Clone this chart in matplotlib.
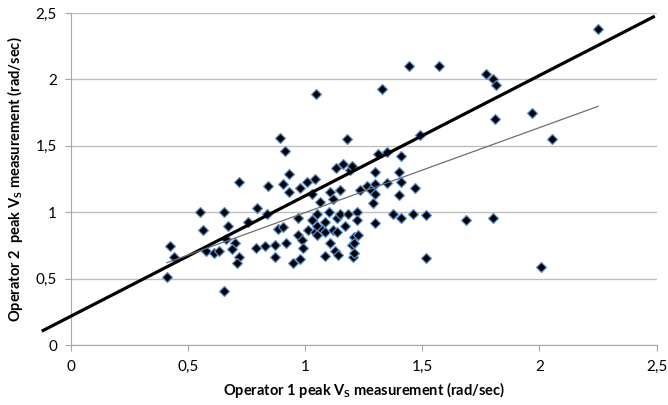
import matplotlib
matplotlib.use("Agg")
import matplotlib.pyplot as plt
import numpy as np

plt.rcParams['font.family'] = ['Lato', 'DejaVu Sans']
plt.rcParams['mathtext.fontset'] = 'custom'
plt.rcParams['mathtext.rm'] = 'Lato'
plt.rcParams['mathtext.bf'] = 'Lato:bold'

# operator 1 / operator 2 peak Vs (rad/sec)
op1 = [0.412, 0.424, 0.441, 0.552, 0.565, 0.576, 0.612, 0.633, 0.652, 0.655,
       0.663, 0.672, 0.70, 0.69, 0.718, 0.71, 0.718, 0.757, 0.79, 0.796,
       0.828, 0.836, 0.84, 0.871, 0.871, 0.886, 0.906, 0.892, 0.912, 0.906,
       0.92, 0.93, 0.93, 0.95, 0.97, 0.97, 0.978, 0.978, 0.987, 0.99,
       1.007, 1.014, 1.03, 1.03, 1.04, 1.047, 1.04, 1.05, 1.05, 1.05,
       1.063, 1.07, 1.085, 1.085, 1.085, 1.10, 1.105, 1.105, 1.12, 1.12,
       1.127, 1.13, 1.135, 1.135, 1.14, 1.15, 1.15, 1.16, 1.17, 1.18,
       1.185, 1.19, 1.20, 1.20, 1.205, 1.21, 1.21, 1.21, 1.22, 1.22,
       1.226, 1.234, 1.263, 1.28, 1.29, 1.30, 1.30, 1.30, 1.30, 1.31,
       1.33, 1.35, 1.35, 1.375, 1.40, 1.40, 1.41, 1.41, 1.41, 1.442,
       1.46, 1.47, 1.49, 1.515, 1.515, 1.57, 1.686, 1.771, 1.80, 1.814,
       1.81, 1.80, 1.967, 2.005, 2.053, 2.248]
op2 = [0.51, 0.745, 0.66, 1.0, 0.865, 0.71, 0.69, 0.71, 1.0, 0.41,
       0.80, 0.895, 0.77, 0.72, 0.66, 0.615, 1.225, 0.93, 0.73, 1.03,
       0.745, 0.99, 1.20, 0.75, 0.66, 0.87, 0.89, 1.556, 1.46, 1.21,
       0.77, 1.29, 1.15, 0.615, 0.96, 0.83, 0.65, 1.18, 0.79, 0.73,
       1.23, 0.865, 1.14, 0.94, 1.25, 1.89, 0.85, 0.99, 0.90, 0.83,
       1.075, 0.865, 0.925, 0.85, 0.67, 1.0, 1.15, 0.77, 1.10, 0.865,
       0.71, 1.33, 0.955, 0.85, 0.68, 1.17, 0.99, 1.36, 0.90, 1.55,
       0.99, 1.32, 1.35, 0.75, 0.66, 0.81, 0.77, 0.69, 1.0, 0.94,
       0.83, 1.17, 1.20, 1.17, 1.07, 1.30, 1.21, 1.14, 0.92, 1.44,
       1.93, 1.45, 1.22, 0.99, 1.30, 1.13, 1.42, 1.23, 0.96, 2.10,
       0.99, 1.18, 1.58, 0.98, 0.655, 2.10, 0.94, 2.04, 2.00, 1.96,
       1.70, 0.96, 1.75, 0.59, 1.55, 2.376]

# lines
thick_x = [-0.118, 2.486]
thick_y = [0.11, 2.47]
trend_x = [0.41, 2.25]
trend_y = [0.62, 1.797]

xticks = [0, 0.5, 1, 1.5, 2, 2.5]
yticks = [0, 0.5, 1, 1.5, 2, 2.5]
tick_labels = ['0', '0,5', '1', '1,5', '2', '2,5']

fig = plt.figure(figsize=(6.68, 4.05), dpi=100)
ax = fig.add_axes([0.106, 0.148, 0.877, 0.82])

ax.plot(op1, op2, linestyle='none', marker='D', ms=5.4, mfc='black',
        mec='#5b8fd0', mew=0.9, zorder=3)
ax.plot(thick_x, thick_y, color='black', lw=2.3, clip_on=False, zorder=4)
ax.plot(trend_x, trend_y, color='#6e6e6e', lw=0.9, zorder=4)

ax.set_xlim(0, 2.5)
ax.set_ylim(0, 2.5)
ax.set_xticks(xticks)
ax.set_xticklabels(tick_labels)
ax.set_yticks(yticks)
ax.set_yticklabels(tick_labels)
ax.yaxis.grid(True, color='#bebebe', lw=1)
ax.set_axisbelow(True)
for s in ['top', 'right']:
    ax.spines[s].set_visible(False)
for s in ['left', 'bottom']:
    ax.spines[s].set_color('#a6a6a6')
ax.tick_params(colors='#a6a6a6', length=4, labelcolor='black', labelsize=11)
ax.tick_params(axis='x', pad=7)
ax.tick_params(axis='y', pad=6)

ax.set_xlabel(r'Operator 1 peak $\mathbf{V_S}$ measurement (rad/sec)',
              fontweight='bold', fontsize=10.5, labelpad=4)
ax.set_ylabel(r'Operator 2  peak $\mathbf{V_S}$ measurement (rad/sec)',
              fontweight='bold', fontsize=10.5, labelpad=8)

fig.savefig('out.png', dpi=100)
